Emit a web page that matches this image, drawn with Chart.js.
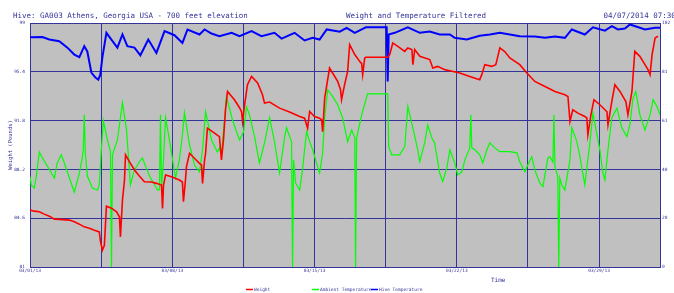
<!DOCTYPE html>
<html>
<head>
<meta charset="utf-8">
<script src="https://cdn.jsdelivr.net/npm/chart.js@4.4.1/dist/chart.umd.min.js"></script>
<style>
  html, body { margin: 0; padding: 0; background: #fff; }
</style>
</head>
<body>
<canvas id="hive" width="674" height="293"></canvas>
<script>
// x = days since 03/01/13
const dateLabels = ['03/01/13', '03/08/13', '03/15/13', '03/22/13', '03/29/13'];

const weight = [
  [0, 85.2], [0.21, 85.12], [0.46, 85.07], [0.7, 84.9], [0.95, 84.75], [1.2, 84.53], [1.44, 84.51],
  [1.94, 84.46], [2.18, 84.33], [2.43, 84.16], [2.67, 83.96], [2.92, 83.86], [3.17, 83.71], [3.41, 83.59],
  [3.46, 82.97], [3.56, 82.23], [3.66, 82.6], [3.76, 85.49], [4.01, 85.34], [4.26, 85.07], [4.4, 84.7],
  [4.45, 83.22], [4.55, 85.94], [4.65, 87.42], [4.7, 89.27], [4.89, 88.77], [5.14, 88.16], [5.38, 87.71],
  [5.63, 87.29], [5.98, 87.27], [6.22, 87.17], [6.47, 87.05], [6.52, 85.32], [6.57, 87.05], [6.67, 87.79],
  [6.96, 87.66], [7.35, 87.42], [7.5, 87.27], [7.55, 85.81], [7.65, 87.42], [7.7, 88.4], [7.85, 89.39],
  [8.09, 89.02], [8.34, 88.65], [8.44, 88.53], [8.49, 87.17], [8.59, 88.9], [8.64, 89.39], [8.73, 91.24],
  [9.08, 90.87], [9.32, 90.62], [9.42, 88.9], [9.52, 90.38], [9.62, 92.6], [9.72, 93.95], [10.06, 93.34],
  [10.31, 92.75], [10.41, 92.45], [10.46, 91.73], [10.56, 92.97], [10.7, 94.45], [10.9, 95.06], [11.2, 94.57],
  [11.44, 93.71], [11.54, 93.09], [11.79, 93.17], [12.28, 92.72], [12.77, 92.43], [13.27, 92.1], [13.51, 91.98],
  [13.66, 91.24], [13.76, 92.47], [14.0, 92.1], [14.25, 91.98], [14.35, 91.86], [14.4, 90.99], [14.5, 93.46],
  [14.74, 95.68], [14.89, 95.31], [15.14, 94.69], [15.28, 94.08], [15.33, 93.34], [15.48, 94.45], [15.63, 95.43],
  [15.73, 97.41], [15.98, 96.67], [16.22, 96.17], [16.32, 96.0], [16.37, 95.19], [16.47, 96.42], [16.52, 96.47],
  [17.6, 96.47], [17.7, 96.67], [17.85, 97.53], [18.1, 97.28], [18.44, 96.91], [18.59, 97.16], [18.79, 97.04],
  [18.84, 95.93], [18.93, 97.04], [19.18, 96.54], [19.67, 96.3], [19.82, 95.68], [20.06, 95.8], [20.41, 95.56],
  [20.66, 95.48], [21.15, 95.31], [21.64, 95.06], [22.13, 94.82], [22.23, 95.19], [22.38, 95.93], [22.72, 95.8],
  [22.92, 95.93], [23.02, 96.54], [23.12, 97.16], [23.36, 96.89], [23.61, 96.42], [24.1, 95.93], [24.45, 95.31],
  [24.84, 94.69], [25.34, 94.32], [25.83, 93.95], [26.32, 93.71], [26.47, 93.58], [26.57, 91.73], [26.71, 92.6],
  [26.96, 92.35], [27.3, 92.1], [27.4, 92.0], [27.45, 90.75], [27.6, 92.23], [27.75, 93.34], [28.04, 92.97],
  [28.29, 92.6], [28.39, 92.45], [28.44, 91.49], [28.63, 93.21], [28.78, 94.45], [29.03, 93.95], [29.32, 93.21],
  [29.42, 92.23], [29.62, 93.95], [29.76, 96.91], [30.01, 96.54], [30.26, 95.93], [30.41, 95.56], [30.51, 95.19],
  [30.61, 96.67], [30.76, 97.9], [30.9, 98.02]
];

const ambientTemp = [
  [0, 37.8], [0.06, 34.3], [0.21, 33.0], [0.31, 38.0], [0.46, 48.1], [0.61, 45.6], [0.85, 42.2], [1.05, 39.3],
  [1.2, 37.2], [1.34, 43.5], [1.54, 46.9], [1.69, 43.5], [1.94, 37.2], [2.18, 31.3], [2.43, 39.3], [2.58, 46.0],
  [2.62, 49.0], [2.67, 63.6], [2.72, 48.1], [2.82, 38.0], [3.07, 33.0], [3.32, 32.2], [3.41, 34.3], [3.51, 49.0],
  [3.61, 61.1], [3.81, 53.1], [3.96, 48.1], [4.01, 0], [4.06, 46.9], [4.3, 53.1], [4.55, 68.7], [4.75, 57.3],
  [4.94, 34.3], [5.14, 40.6], [5.38, 43.9], [5.53, 45.6], [5.88, 38.0], [6.27, 32.2], [6.37, 32.2], [6.42, 63.6],
  [6.47, 33.0], [6.57, 44.8], [6.67, 62.4], [6.86, 53.1], [7.16, 37.2], [7.35, 44.8], [7.5, 55.3], [7.6, 64.5],
  [7.85, 51.1], [8.09, 42.7], [8.34, 39.7], [8.49, 49.0], [8.64, 64.9], [8.93, 53.1], [9.22, 48.1], [9.32, 49.8],
  [9.42, 46.9], [9.67, 71.2], [9.96, 61.5], [10.31, 53.1], [10.51, 56.5], [10.65, 67.0], [10.8, 63.6], [11.05, 54.4],
  [11.29, 43.5], [11.54, 51.9], [11.79, 62.4], [12.03, 52.4], [12.28, 39.3], [12.53, 54.4], [12.62, 58.2], [12.87, 52.4],
  [12.92, 0], [12.97, 44.8], [13.07, 35.1], [13.27, 32.2], [13.41, 40.6], [13.51, 49.0], [13.61, 56.6], [13.76, 52.4],
  [13.91, 49.0], [14.15, 41.9], [14.25, 39.3], [14.4, 47.7], [14.5, 62.4], [14.65, 74.1], [14.89, 71.3], [15.14, 67.8],
  [15.38, 62.4], [15.63, 52.4], [15.83, 57.3], [15.98, 54.0], [16.02, 0], [16.07, 54.0], [16.32, 63.6], [16.61, 72.4],
  [17.6, 72.4], [17.65, 50.3], [17.8, 46.9], [18.19, 46.9], [18.44, 50.3], [18.59, 67.1], [18.84, 58.2], [19.08, 49.0],
  [19.18, 44.0], [19.42, 51.9], [19.57, 59.4], [19.77, 54.0], [19.91, 51.9], [20.16, 39.3], [20.31, 35.7], [20.51, 41.4],
  [20.66, 49.0], [20.9, 43.5], [21.05, 38.5], [21.25, 39.8], [21.4, 44.8], [21.64, 49.8], [21.69, 63.6], [21.74, 49.8],
  [21.89, 49.0], [22.13, 46.9], [22.28, 43.5], [22.48, 49.0], [22.63, 51.9], [22.87, 49.8], [23.12, 48.2], [23.61, 48.2],
  [23.96, 47.7], [24.1, 44.0], [24.35, 39.8], [24.5, 42.7], [24.69, 46.1], [24.84, 40.6], [25.09, 35.0], [25.24, 33.6],
  [25.48, 45.5], [25.58, 46.1], [25.73, 43.9], [25.78, 63.6], [25.83, 41.9], [25.97, 37.8], [26.02, 0], [26.07, 37.2],
  [26.17, 34.3], [26.32, 32.2], [26.57, 44.8], [26.66, 58.2], [26.91, 52.4], [27.06, 46.1], [27.3, 34.3], [27.55, 51.9],
  [27.7, 64.3], [27.9, 55.2], [28.04, 49.0], [28.19, 39.3], [28.29, 36.4], [28.44, 49.0], [28.63, 62.4], [28.88, 66.4],
  [29.12, 58.2], [29.37, 54.5], [29.52, 59.6], [29.67, 70.6], [29.81, 73.3], [30.01, 63.6], [30.26, 57.3], [30.51, 63.6],
  [30.66, 69.9], [30.85, 67.1], [31.0, 63.6]
];

const hiveTemp = [
  [0, 96.0], [0.61, 96.1], [0.95, 95.1], [1.44, 94.4], [1.84, 91.7], [2.18, 88.8], [2.43, 87.7], [2.67, 92.3],
  [2.82, 90.1], [3.02, 81.3], [3.22, 79.2], [3.36, 78.3], [3.46, 80.4], [3.56, 87.5], [3.76, 97.9], [4.06, 94.4],
  [4.3, 91.7], [4.55, 97.2], [4.79, 92.3], [5.14, 91.7], [5.43, 88.5], [5.82, 95.1], [6.22, 89.5], [6.62, 98.6],
  [7.11, 96.9], [7.5, 93.7], [7.75, 99.3], [8.34, 97.2], [8.59, 99.3], [8.93, 97.6], [9.32, 96.5], [9.92, 97.9],
  [10.31, 96.5], [10.9, 98.6], [11.39, 96.5], [12.03, 97.9], [12.38, 95.5], [13.02, 97.9], [13.51, 94.7], [13.91, 95.8],
  [14.25, 95.1], [14.6, 99.3], [15.24, 98.4], [15.58, 100.0], [15.98, 97.9], [16.47, 100.0], [16.52, 100.2], [17.55, 100.2],
  [17.6, 77.6], [17.65, 97.2], [17.95, 97.9], [18.59, 100.2], [19.18, 97.9], [19.67, 98.4], [20.16, 97.2], [20.66, 97.2],
  [20.9, 95.8], [21.49, 95.1], [22.13, 96.7], [22.63, 97.2], [23.12, 97.9], [23.61, 97.2], [24.1, 96.5], [24.84, 96.4],
  [25.34, 95.8], [25.83, 96.4], [26.32, 95.8], [26.66, 99.3], [27.3, 97.2], [27.7, 100.2], [28.29, 98.8], [28.63, 100.7],
  [28.93, 99.3], [29.27, 99.7], [29.52, 101.4], [30.01, 100.0], [30.26, 99.3], [30.76, 100.0], [31.0, 100.0]
];

const NAVY = '#333399';
const MONO = '"DejaVu Sans Mono", monospace';

const toXY = (pts) => pts.map(([x, y]) => ({ x, y }));

// plot background, header texts, x title and legend
const hiveDecor = {
  id: 'hiveDecor',
  beforeDraw(chart) {
    const { ctx, chartArea: a } = chart;
    ctx.save();
    ctx.fillStyle = '#c0c0c0';
    ctx.fillRect(a.left, a.top, a.right - a.left, a.bottom - a.top);
    ctx.restore();
  },
  afterDraw(chart) {
    const ctx = chart.ctx;
    ctx.save();
    ctx.fillStyle = NAVY;
    ctx.textBaseline = 'middle';
    ctx.font = '7.5px ' + MONO;
    ctx.fillText('Hive: GA003 Athens, Georgia USA - 700 feet elevation', 13, 16);
    ctx.fillText('Weight and Temperature Filtered', 346, 16);
    ctx.fillText('04/07/2014 07:30', 603.5, 16);

    ctx.font = '6px ' + MONO;
    ctx.fillText('Time', 491, 280);

    ctx.font = '4.5px ' + MONO;
    const items = [
      { label: 'Weight', color: '#ff0000', x: 246 },
      { label: 'Ambient Temperature', color: '#00ff00', x: 312 },
      { label: 'Hive Temperature', color: '#0000ff', x: 371 }
    ];
    items.forEach((it) => {
      ctx.strokeStyle = it.color;
      ctx.lineWidth = 1.5;
      ctx.beginPath();
      ctx.moveTo(it.x, 289.5);
      ctx.lineTo(it.x + 7, 289.5);
      ctx.stroke();
      ctx.fillStyle = NAVY;
      ctx.fillText(it.label, it.x + 8, 289.5);
    });
    ctx.restore();
  }
};

new Chart(document.getElementById('hive'), {
  type: 'line',
  data: {
    datasets: [
      {
        label: 'Weight',
        data: toXY(weight),
        yAxisID: 'y',
        borderColor: '#ff0000',
        borderWidth: 1.6
      },
      {
        label: 'Ambient Temperature',
        data: toXY(ambientTemp),
        yAxisID: 'y1',
        borderColor: '#00ff00',
        borderWidth: 1.2
      },
      {
        label: 'Hive Temperature',
        data: toXY(hiveTemp),
        yAxisID: 'y1',
        borderColor: '#0000ff',
        borderWidth: 2
      }
    ]
  },
  options: {
    responsive: false,
    animation: false,
    devicePixelRatio: 1,
    layout: { padding: { top: 23, left: 0, right: 0, bottom: 0 } },
    elements: {
      point: { radius: 0 },
      line: { tension: 0 }
    },
    plugins: {
      legend: { display: false },
      tooltip: { enabled: false }
    },
    scales: {
      x: {
        type: 'linear',
        min: 0,
        max: 31,
        afterFit: (s) => { s.height = 26; },
        grid: { color: NAVY, drawTicks: false },
        border: { color: NAVY },
        ticks: {
          stepSize: 3.5,
          autoSkip: false,
          maxRotation: 0,
          padding: 1,
          color: NAVY,
          font: { family: MONO, size: 4.5 },
          callback: (v) => (v % 7 === 0 ? dateLabels[v / 7] : '')
        }
      },
      y: {
        position: 'left',
        min: 81,
        max: 99,
        afterFit: (s) => { s.width = 30; },
        grid: { color: NAVY, drawTicks: false },
        border: { color: NAVY },
        title: {
          display: true,
          text: 'Weight (Pounds)',
          color: NAVY,
          font: { family: MONO, size: 5.5 },
          padding: { top: 7, bottom: 0 }
        },
        ticks: {
          stepSize: 3.6,
          padding: 5,
          color: NAVY,
          font: { family: MONO, size: 4.5 },
          callback: (v) => String(Math.round(v * 10) / 10)
        }
      },
      y1: {
        position: 'right',
        min: 0,
        max: 102,
        afterFit: (s) => { s.width = 14; },
        grid: { drawOnChartArea: false, drawTicks: false },
        border: { color: NAVY },
        ticks: {
          stepSize: 20.4,
          padding: 2,
          color: NAVY,
          font: { family: MONO, size: 4.5 },
          callback: (v) => String(Math.floor(v + 1e-6))
        }
      }
    }
  },
  plugins: [hiveDecor]
});
</script>
</body>
</html>
